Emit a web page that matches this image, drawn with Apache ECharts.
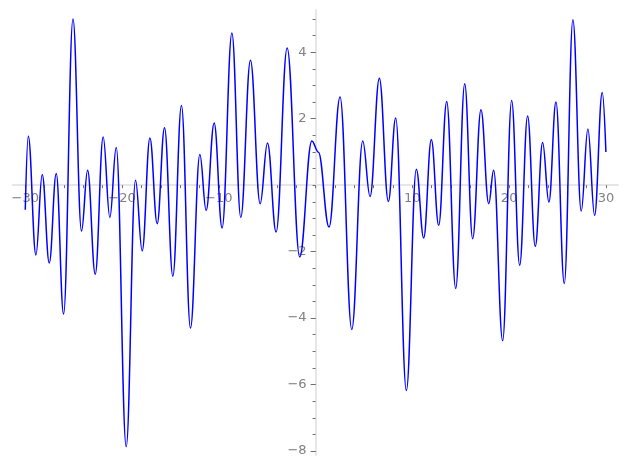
<!DOCTYPE html>
<html>
<head>
<meta charset="utf-8">
<script src="https://cdn.jsdelivr.net/npm/echarts@6/dist/echarts.min.js"></script>
<style>
  html, body { margin: 0; padding: 0; background: #fff; }
  #chart { width: 627px; height: 469px; }
</style>
</head>
<body>
<div id="chart"></div>
<script>
// points: the ends of the curve, each peak and trough, and the shoulder near 0
var xValues = [-30, -29.69, -28.9, -28.25, -27.52, -26.8, -26.04, -25.07, -24.19, -23.56,
  -22.77, -21.95, -21.26, -20.6, -19.57, -18.61, -17.92, -17.12, -16.37, -15.61,
  -14.75, -13.86, -12.93, -11.96, -11.31, -10.48, -9.66, -8.65, -7.73, -6.73,
  -5.73, -4.97, -4.08, -2.94, -1.64, -0.39, 0.29, 1.39, 2.53, 3.74,
  4.87, 5.63, 6.59, 7.52, 8.28, 9.38, 10.41, 11.17, 11.96, 12.72,
  13.55, 14.48, 15.41, 16.23, 17.09, 17.89, 18.4, 19.33, 20.26, 21.09,
  21.91, 22.7, 23.46, 24.11, 24.84, 25.7, 26.59, 27.45, 28.14, 28.83,
  29.62, 30];
var yValues = [-0.74, 1.47, -2.1, 0.32, -2.34, 0.35, -3.88, 5.0, -1.38, 0.45,
  -2.68, 1.45, -0.97, 1.13, -7.87, 0.15, -1.98, 1.42, -1.16, 1.73,
  -2.74, 2.4, -4.3, 0.92, -0.76, 1.87, -1.29, 4.58, -0.97, 3.76,
  -0.56, 1.27, -1.41, 4.13, -2.16, 1.33, 0.99, -1.26, 2.65, -4.34,
  1.33, -0.34, 3.22, -0.49, 2.02, -6.18, 0.48, -1.59, 1.37, -1.21,
  2.52, -3.11, 3.05, -1.61, 2.27, -0.56, 0.45, -4.68, 2.55, -2.41,
  2.08, -1.84, 1.28, -0.51, 2.5, -2.96, 4.98, -0.78, 1.69, -0.91,
  2.79, 1.0];

// tick labels
var xLabelValues = [-30, -20, -10, 10, 20, 30];
var yLabelValues = [-8, -6, -4, -2, 2, 4];

var xTickValues = [];
for (var t = -30; t <= 30; t += 2) xTickValues.push(t);
var yMinorValues = [];
for (var s = -8; s <= 5; s += 0.5) yMinorValues.push(s);

var X_MIN = -31.3, X_MAX = 31.25;
var Y_MIN = -8.12, Y_MAX = 5.27;

var W = 627, H = 469;
var G_LEFT = 12.7, G_RIGHT = 9, G_TOP = 10, G_BOTTOM = 14;
// axes cross at the origin: shift them in from the grid edges
var gridW = W - G_LEFT - G_RIGHT, gridH = H - G_TOP - G_BOTTOM;
var xAxisShift = -gridH * (0 - Y_MIN) / (Y_MAX - Y_MIN);
var yAxisShift = -gridW * (0 - X_MIN) / (X_MAX - X_MIN);

var points = xValues.map(function (x, i) { return [x, yValues[i]]; });

function minusSign(v) {
  return String(v).replace('-', '\u2212');
}

var labelStyle = { color: '#808080', fontSize: 13, fontFamily: 'DejaVu Sans' };

var chart = echarts.init(document.getElementById('chart'));
chart.setOption({
  animation: false,
  backgroundColor: '#fff',
  grid: { left: G_LEFT, right: G_RIGHT, top: G_TOP, bottom: G_BOTTOM, containLabel: false, outerBoundsMode: 'none' },
  xAxis: [{
    type: 'value',
    min: X_MIN,
    max: X_MAX,
    position: 'bottom',
    offset: xAxisShift,
    splitLine: { show: false },
    axisLine: { show: true, onZero: false, lineStyle: { color: '#e6e6e6', width: 2 } },
    axisTick: { show: true, customValues: xTickValues, length: 3, lineStyle: { color: '#707070', width: 1 } },
    axisLabel: Object.assign({ customValues: xLabelValues, margin: 7, formatter: minusSign }, labelStyle)
  }],
  yAxis: [{
    type: 'value',
    min: Y_MIN,
    max: Y_MAX,
    position: 'left',
    offset: yAxisShift,
    splitLine: { show: false },
    axisLine: { show: true, onZero: false, lineStyle: { color: '#e6e6e6', width: 2 } },
    axisTick: { show: true, customValues: yLabelValues, length: 5, lineStyle: { color: '#707070', width: 1 } },
    axisLabel: Object.assign({ customValues: yLabelValues, margin: 9, formatter: minusSign }, labelStyle)
  }, {
    // minor ticks only
    type: 'value',
    min: Y_MIN,
    max: Y_MAX,
    position: 'left',
    offset: yAxisShift,
    splitLine: { show: false },
    axisLine: { show: false, onZero: false },
    axisTick: { show: true, customValues: yMinorValues, length: 3, lineStyle: { color: '#707070', width: 1 } },
    axisLabel: { show: false }
  }],
  series: [{
    type: 'line',
    data: points,
    showSymbol: false,
    symbol: 'none',
    smooth: 0.4,
    smoothMonotone: 'x',
    lineStyle: { color: '#0000ff', width: 1.5 },
    z: 3
  }]
});
</script>
</body>
</html>
